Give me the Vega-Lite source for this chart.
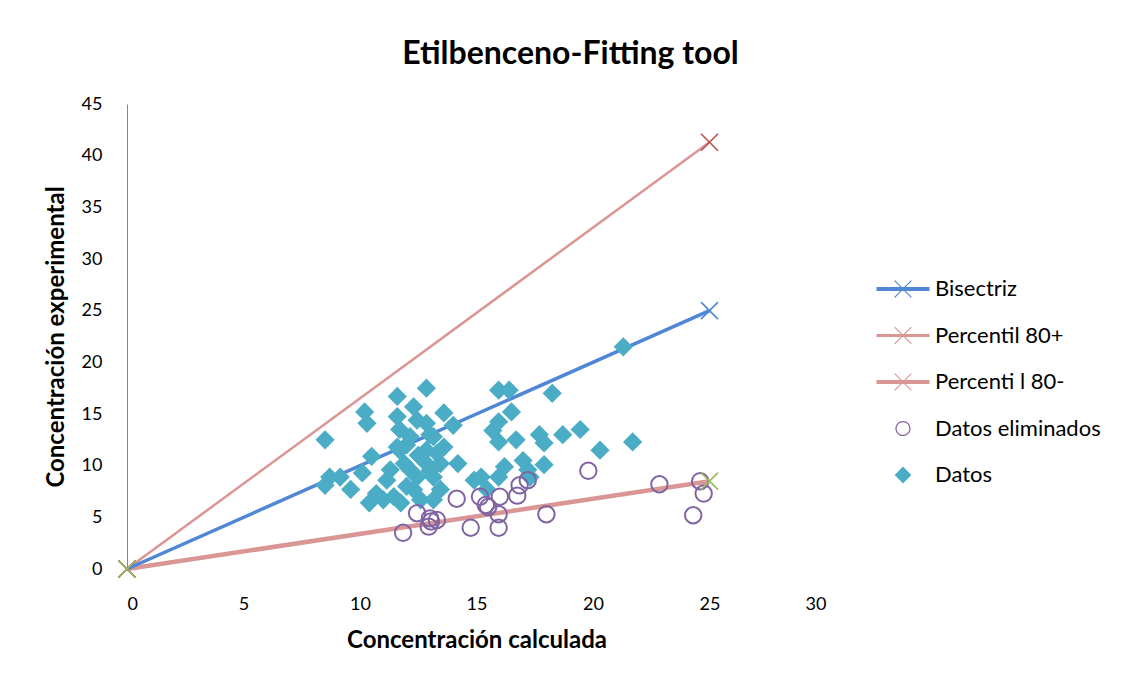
{
  "$schema": "https://vega.github.io/schema/vega-lite/v6.json",
  "width": 699,
  "height": 465,
  "autosize": "none",
  "padding": {"left": 127, "top": 104, "right": 302, "bottom": 112},
  "background": "white",
  "config": {"view": {"stroke": null}, "font": "Lato"},
  "title": {"text": "Etilbenceno-Fitting tool", "font": "Lato", "fontSize": 32, "fontWeight": "bold", "color": "black", "anchor": "middle", "dx": 94, "offset": -1, "baseline": "alphabetic"},
  "datasets": {
    "lineas": [
      {"serie": "Bisectriz", "x": 0, "y": 0}, {"serie": "Bisectriz", "x": 25, "y": 25},
      {"serie": "Percentil 80+", "x": 0, "y": 0}, {"serie": "Percentil 80+", "x": 25, "y": 41.3},
      {"serie": "Percenti l 80-", "x": 0, "y": 0}, {"serie": "Percenti l 80-", "x": 25, "y": 8.5}
    ],
    "marcas": [
      {"serie": "Bisectriz", "x": 0, "y": 0}, {"serie": "Bisectriz", "x": 25, "y": 25},
      {"serie": "Percentil 80+", "x": 0, "y": 0}, {"serie": "Percentil 80+", "x": 25, "y": 41.3},
      {"serie": "Percenti l 80-", "x": 0, "y": 0}, {"serie": "Percenti l 80-", "x": 25, "y": 8.5}
    ],
    "datos": [
      {"serie": "Datos", "x": 8.5, "y": 12.5}, {"serie": "Datos", "x": 8.5, "y": 8.1}, {"serie": "Datos", "x": 8.7, "y": 8.9}, {"serie": "Datos", "x": 9.15, "y": 8.9},
      {"serie": "Datos", "x": 9.6, "y": 7.7}, {"serie": "Datos", "x": 10.1, "y": 9.3}, {"serie": "Datos", "x": 10.2, "y": 15.2}, {"serie": "Datos", "x": 10.3, "y": 14.1},
      {"serie": "Datos", "x": 10.5, "y": 10.9}, {"serie": "Datos", "x": 10.4, "y": 6.4}, {"serie": "Datos", "x": 10.7, "y": 7.3}, {"serie": "Datos", "x": 11.0, "y": 6.7},
      {"serie": "Datos", "x": 11.15, "y": 8.6}, {"serie": "Datos", "x": 11.3, "y": 9.6}, {"serie": "Datos", "x": 11.45, "y": 7.0}, {"serie": "Datos", "x": 11.6, "y": 16.7},
      {"serie": "Datos", "x": 11.6, "y": 14.75}, {"serie": "Datos", "x": 11.6, "y": 11.8}, {"serie": "Datos", "x": 11.7, "y": 13.5}, {"serie": "Datos", "x": 11.7, "y": 11.5},
      {"serie": "Datos", "x": 11.75, "y": 6.4}, {"serie": "Datos", "x": 11.9, "y": 10.2}, {"serie": "Datos", "x": 12.15, "y": 12.8}, {"serie": "Datos", "x": 12.15, "y": 9.6},
      {"serie": "Datos", "x": 12.3, "y": 15.7}, {"serie": "Datos", "x": 12.3, "y": 7.7}, {"serie": "Datos", "x": 12.45, "y": 14.4}, {"serie": "Datos", "x": 12.45, "y": 8.9},
      {"serie": "Datos", "x": 12.6, "y": 6.7}, {"serie": "Datos", "x": 12.85, "y": 17.5}, {"serie": "Datos", "x": 12.85, "y": 14.1}, {"serie": "Datos", "x": 12.85, "y": 11.5},
      {"serie": "Datos", "x": 12.85, "y": 10.2}, {"serie": "Datos", "x": 13.15, "y": 12.8}, {"serie": "Datos", "x": 13.15, "y": 8.9}, {"serie": "Datos", "x": 13.15, "y": 6.7},
      {"serie": "Datos", "x": 13.3, "y": 11.2}, {"serie": "Datos", "x": 13.45, "y": 10.2}, {"serie": "Datos", "x": 13.45, "y": 7.7}, {"serie": "Datos", "x": 13.6, "y": 11.8},
      {"serie": "Datos", "x": 13.6, "y": 15.1}, {"serie": "Datos", "x": 14.0, "y": 13.9}, {"serie": "Datos", "x": 14.2, "y": 10.2}, {"serie": "Datos", "x": 14.9, "y": 8.6},
      {"serie": "Datos", "x": 15.2, "y": 8.9}, {"serie": "Datos", "x": 15.45, "y": 7.7}, {"serie": "Datos", "x": 15.7, "y": 13.4}, {"serie": "Datos", "x": 15.95, "y": 17.3},
      {"serie": "Datos", "x": 16.4, "y": 17.3}, {"serie": "Datos", "x": 16.5, "y": 15.2}, {"serie": "Datos", "x": 15.95, "y": 14.25}, {"serie": "Datos", "x": 15.95, "y": 12.3},
      {"serie": "Datos", "x": 16.7, "y": 12.5}, {"serie": "Datos", "x": 16.2, "y": 9.9}, {"serie": "Datos", "x": 15.95, "y": 8.9}, {"serie": "Datos", "x": 17.0, "y": 10.5},
      {"serie": "Datos", "x": 17.2, "y": 9.6}, {"serie": "Datos", "x": 17.3, "y": 8.9}, {"serie": "Datos", "x": 17.7, "y": 13.0}, {"serie": "Datos", "x": 17.9, "y": 12.2},
      {"serie": "Datos", "x": 17.9, "y": 10.1}, {"serie": "Datos", "x": 18.25, "y": 17.0}, {"serie": "Datos", "x": 18.7, "y": 13.0}, {"serie": "Datos", "x": 19.45, "y": 13.5},
      {"serie": "Datos", "x": 20.3, "y": 11.5}, {"serie": "Datos", "x": 21.3, "y": 21.5}, {"serie": "Datos", "x": 21.7, "y": 12.3}, {"serie": "Datos", "x": 12.0, "y": 12.0},
      {"serie": "Datos", "x": 12.5, "y": 11.0}, {"serie": "Datos", "x": 13.0, "y": 9.5}, {"serie": "Datos", "x": 12.0, "y": 8.0}, {"serie": "Datos", "x": 13.0, "y": 13.0},
      {"serie": "Datos eliminados", "x": 11.85, "y": 3.5}, {"serie": "Datos eliminados", "x": 12.45, "y": 5.4}, {"serie": "Datos eliminados", "x": 13.0, "y": 4.9},
      {"serie": "Datos eliminados", "x": 13.3, "y": 4.75}, {"serie": "Datos eliminados", "x": 12.95, "y": 4.1}, {"serie": "Datos eliminados", "x": 13.05, "y": 4.6},
      {"serie": "Datos eliminados", "x": 14.15, "y": 6.8}, {"serie": "Datos eliminados", "x": 14.75, "y": 4.0}, {"serie": "Datos eliminados", "x": 15.15, "y": 7.0},
      {"serie": "Datos eliminados", "x": 15.4, "y": 6.2}, {"serie": "Datos eliminados", "x": 15.5, "y": 6.0}, {"serie": "Datos eliminados", "x": 16.0, "y": 7.0},
      {"serie": "Datos eliminados", "x": 15.95, "y": 5.3}, {"serie": "Datos eliminados", "x": 15.95, "y": 4.0}, {"serie": "Datos eliminados", "x": 16.75, "y": 7.1},
      {"serie": "Datos eliminados", "x": 16.85, "y": 8.1}, {"serie": "Datos eliminados", "x": 17.2, "y": 8.6}, {"serie": "Datos eliminados", "x": 18.0, "y": 5.3},
      {"serie": "Datos eliminados", "x": 19.8, "y": 9.5}, {"serie": "Datos eliminados", "x": 22.85, "y": 8.2}, {"serie": "Datos eliminados", "x": 24.3, "y": 5.2},
      {"serie": "Datos eliminados", "x": 24.6, "y": 8.5}, {"serie": "Datos eliminados", "x": 24.75, "y": 7.3}
    ]
  },
  "encoding": {
    "x": {"field": "x", "type": "quantitative", "scale": {"domain": [0, 30], "nice": false},
      "axis": {"values": [0, 5, 10, 15, 20, 25, 30], "domain": false, "ticks": false, "grid": false, "labelFont": "Lato", "labelFontSize": 18, "labelColor": "black", "labelPadding": 26, "labelBaseline": "top",
        "title": "Concentración calculada", "titleFont": "Lato", "titleFontSize": 24, "titleFontWeight": "bold", "titleColor": "black", "titlePadding": 15}},
    "y": {"field": "y", "type": "quantitative", "scale": {"domain": [0, 45], "nice": false},
      "axis": {"values": [0, 5, 10, 15, 20, 25, 30, 35, 40, 45], "domain": true, "domainColor": "#868686", "domainWidth": 1, "ticks": false, "grid": false, "labelFont": "Lato", "labelFontSize": 18, "labelColor": "black", "labelPadding": 25,
        "title": "Concentración experimental", "titleFont": "Lato", "titleFontSize": 24, "titleFontWeight": "bold", "titleColor": "black", "titlePadding": 13}}
  },
  "layer": [
    {
      "data": {"name": "lineas"},
      "transform": [{"filter": "datum.serie === 'Percenti l 80-'"}],
      "mark": {"type": "line", "strokeWidth": 4.5},
      "encoding": {
        "color": {"field": "serie", "type": "nominal",
          "scale": {"domain": ["Bisectriz", "Percentil 80+", "Percenti l 80-"], "range": ["#4F86D6", "#DA9694", "#DA9694"]},
          "legend": null}
      }
    },
    {
      "data": {"name": "lineas"},
      "transform": [{"filter": "datum.serie === 'Percentil 80+'"}],
      "mark": {"type": "line", "strokeWidth": 2.5},
      "encoding": {"color": {"field": "serie", "type": "nominal", "legend": null}}
    },
    {
      "data": {"name": "lineas"},
      "transform": [{"filter": "datum.serie === 'Bisectriz'"}],
      "mark": {"type": "line", "strokeWidth": 3.5},
      "encoding": {"color": {"field": "serie", "type": "nominal", "legend": null}}
    },
    {
      "data": {"name": "datos"},
      "transform": [{"filter": "datum.serie === 'Datos'"}],
      "mark": {"type": "point", "shape": "diamond", "filled": true, "size": 370, "opacity": 1},
      "encoding": {
        "fill": {"field": "serie", "type": "nominal",
          "scale": {"domain": ["Bisectriz", "Percentil 80+", "Percenti l 80-", "Datos eliminados", "Datos"], "range": ["#4F86D6", "#DA9694", "#DA9694", "#8064A2", "#4BACC6"]},
          "legend": {"orient": "none", "legendX": 765, "legendY": 174, "title": null, "padding": 0, "symbolSize": 312, "symbolStrokeWidth": 0, "symbolStrokeColor": "transparent", "symbolOpacity": 1, "labelFont": "Lato", "labelFontSize": 22, "labelColor": "black", "labelOffset": 21, "rowPadding": 24.5, "labelLimit": 400,
            "encode": {"symbols": {"update": {
              "shape": {"signal": "datum.value === 'Datos' ? 'M0,-0.95L0.95,0L0,0.95L-0.95,0Z' : datum.value === 'Datos eliminados' ? 'M0.86,0A0.86,0.86,0,1,1,-0.86,0A0.86,0.86,0,1,1,0.86,0ZM0.72,0A0.72,0.72,0,1,0,-0.72,0A0.72,0.72,0,1,0,0.72,0Z' : datum.value === 'Percentil 80+' ? 'M-3,-0.17L3,-0.17L3,0.17L-3,0.17ZM-0.902,-0.998L0.998,0.902L0.902,0.998L-0.998,-0.902ZM-0.998,0.902L0.902,-0.998L0.998,-0.902L-0.902,0.998Z' : 'M-3,-0.24L3,-0.24L3,0.24L-3,0.24ZM-0.902,-0.998L0.998,0.902L0.902,0.998L-0.998,-0.902ZM-0.998,0.902L0.902,-0.998L0.998,-0.902L-0.902,0.998Z'"}
            }}}
          }}
      }
    },
    {
      "data": {"name": "datos"},
      "transform": [{"filter": "datum.serie === 'Datos eliminados'"}],
      "mark": {"type": "point", "shape": "circle", "filled": false, "size": 270, "strokeWidth": 2, "opacity": 1, "color": "#8064A2"},
      "encoding": {}
    },
    {
      "data": {"name": "marcas"},
      "mark": {"type": "point", "shape": "M-1,-1L1,1M-1,1L1,-1", "filled": false, "size": 289, "strokeWidth": 1.6, "opacity": 1},
      "encoding": {
        "stroke": {"field": "serie", "type": "nominal",
          "scale": {"domain": ["Bisectriz", "Percentil 80+", "Percenti l 80-"], "range": ["#4F86D6", "#C0504D", "#9BBB59"]},
          "legend": {"orient": "none", "legendX": 765, "legendY": 174, "title": null, "padding": 0, "symbolSize": 312, "symbolStrokeWidth": 1.2, "symbolFillColor": "transparent", "symbolType": "M-0.95,-0.95L0.95,0.95M-0.95,0.95L0.95,-0.95", "symbolOpacity": 1, "labelFont": "Lato", "labelFontSize": 22, "labelColor": "transparent", "labelOffset": 21, "rowPadding": 24.5, "labelLimit": 400}}
      }
    }
  ]
}
